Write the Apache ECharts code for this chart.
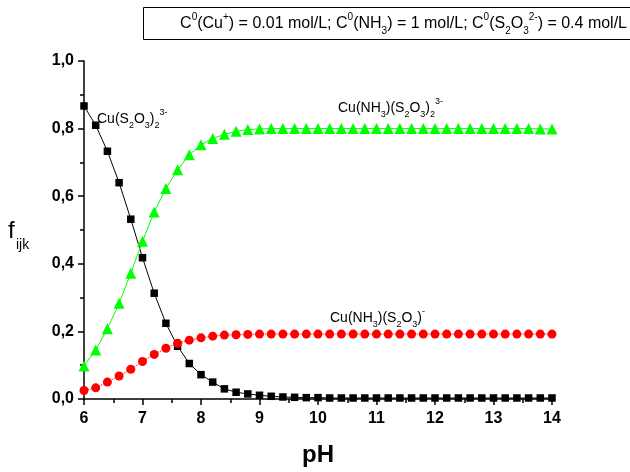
<!DOCTYPE html>
<html>
<head>
<meta charset="utf-8">
<script src="https://cdn.jsdelivr.net/npm/echarts@6/dist/echarts.min.js"></script>
<style>html,body{margin:0;padding:0;background:#fff}#c{width:630px;height:472px}</style>
</head>
<body>
<div id="c"></div>
<script>
const pH = [6.0,6.2,6.4,6.6,6.8,7.0,7.2,7.4,7.6,7.8,8.0,8.2,8.4,8.6,8.8,9.0,9.2,9.4,9.6,9.8,10.0,10.2,10.4,10.6,10.8,11.0,11.2,11.4,11.6,11.8,12.0,12.2,12.4,12.6,12.8,13.0,13.2,13.4,13.6,13.8,14.0];
const cuS2O3_2 = [0.867,0.810,0.733,0.640,0.532,0.418,0.313,0.224,0.156,0.105,0.072,0.050,0.030,0.020,0.015,0.011,0.008,0.006,0.005,0.004,0.004,0.003,0.003,0.003,0.003,0.003,0.003,0.003,0.003,0.003,0.003,0.003,0.003,0.003,0.003,0.003,0.003,0.003,0.003,0.003,0.003];
const cuNH3S2O3_2 = [0.098,0.145,0.208,0.283,0.372,0.467,0.553,0.623,0.678,0.723,0.752,0.771,0.783,0.792,0.797,0.799,0.800,0.800,0.800,0.800,0.800,0.800,0.800,0.800,0.800,0.800,0.800,0.800,0.800,0.800,0.800,0.800,0.800,0.800,0.800,0.800,0.800,0.800,0.800,0.799,0.799];
const cuNH3S2O3 = [0.025,0.033,0.050,0.068,0.088,0.111,0.132,0.150,0.165,0.174,0.181,0.186,0.189,0.190,0.191,0.192,0.192,0.192,0.192,0.192,0.192,0.192,0.192,0.192,0.192,0.192,0.192,0.192,0.192,0.192,0.192,0.192,0.192,0.192,0.192,0.192,0.192,0.192,0.192,0.192,0.192];
const xTicks = [6,7,8,9,10,11,12,13,14];
const yTicks = ['0,0','0,2','0,4','0,6','0,8','1,0'];

const FF = 'Liberation Sans, Arial, sans-serif';
const pair = (xs, ys) => xs.map((x, i) => [x, ys[i]]);
const mkRich = (fs, sfs, lh) => ({
  n: {fontSize: fs, lineHeight: lh, fontFamily: FF, color: '#000', verticalAlign: 'middle'},
  sup: {fontSize: sfs, lineHeight: lh, fontFamily: FF, color: '#000', verticalAlign: 'top'},
  sub: {fontSize: sfs, lineHeight: lh, fontFamily: FF, color: '#000', verticalAlign: 'bottom'}
});
const rich = mkRich(14, 9, 22);
const richT = mkRich(16, 10, 24);

const chart = echarts.init(document.getElementById('c'), null, {renderer: 'canvas'});
chart.setOption({
  animation: false,
  backgroundColor: '#fff',
  grid: {left: 84, right: 78, top: 61, bottom: 69, containLabel: false},
  xAxis: {
    type: 'value', min: 6, max: 14, interval: 1,
    name: 'pH', nameLocation: 'middle', nameGap: 44,
    nameTextStyle: {fontSize: 24, fontWeight: 'bold', fontFamily: FF, color: '#000'},
    axisLine: {lineStyle: {color: '#000', width: 1.5}},
    axisTick: {inside: false, length: 6, lineStyle: {color: '#000', width: 1.5}},
    minorTick: {show: true, splitNumber: 2, length: 4, lineStyle: {color: '#000', width: 1.5}},
    axisLabel: {margin: 12, fontSize: 16, fontWeight: 'bold', fontFamily: FF, color: '#000',
      formatter: v => String(xTicks.find(t => t === v) ?? v)},
    splitLine: {show: false}
  },
  yAxis: {
    type: 'value', min: 0, max: 1, interval: 0.2,
    axisLine: {show: true, lineStyle: {color: '#000', width: 1.5}},
    axisTick: {show: true, inside: false, length: 6, lineStyle: {color: '#000', width: 1.5}},
    minorTick: {show: true, splitNumber: 2, length: 4, lineStyle: {color: '#000', width: 1.5}},
    axisLabel: {margin: 10, fontSize: 16, fontWeight: 'bold', fontFamily: FF, color: '#000',
      formatter: v => yTicks[Math.round(v / 0.2)]},
    splitLine: {show: false}
  },
  series: [
    {type: 'line', data: pair(pH, cuS2O3_2), symbol: 'rect', symbolSize: 7.5, clip: true,
     itemStyle: {color: '#000'}, lineStyle: {color: '#000', width: 1}},
    {type: 'line', data: pair(pH, cuNH3S2O3_2), symbol: 'triangle', symbolSize: 11, clip: true,
     itemStyle: {color: '#00ff00'}, lineStyle: {color: '#00ff00', width: 1}},
    {type: 'line', data: pair(pH, cuNH3S2O3), symbol: 'circle', symbolSize: 9, clip: true,
     itemStyle: {color: '#ff0000'}, lineStyle: {color: '#ff0000', width: 1, type: 'dotted'}}
  ],
  graphic: [
    {type: 'rect', shape: {x: 143.5, y: 7.5, width: 520, height: 32}, style: {fill: '#fff', stroke: '#000', lineWidth: 1}},
    {type: 'text', x: 627, y: 24, style: {rich: richT, align: 'right', verticalAlign: 'middle',
      text: '{n|C}{sup|0}{n|(Cu}{sup|+}{n|) = 0.01 mol/L; C}{sup|0}{n|(NH}{sub|3}{n|) = 1 mol/L; C}{sup|0}{n|(S}{sub|2}{n|O}{sub|3}{sup|2-}{n|) = 0.4 mol/L}'}},
    {type: 'text', x: 97, y: 108, style: {rich: rich,
      text: '{n|Cu(S}{sub|2}{n|O}{sub|3}{n|)}{sub|2}{sup|3-}'}},
    {type: 'text', x: 338, y: 97, style: {rich: rich,
      text: '{n|Cu(NH}{sub|3}{n|)(S}{sub|2}{n|O}{sub|3}{n|)}{sub|2}{sup|3-}'}},
    {type: 'text', x: 330, y: 307, style: {rich: rich,
      text: '{n|Cu(NH}{sub|3}{n|)(S}{sub|2}{n|O}{sub|3}{n|)}{sup|-}'}},
    {type: 'text', x: 8, y: 219, style: {text: 'f', fontSize: 24, fontFamily: FF, fill: '#000'}},
    {type: 'text', x: 16, y: 238, style: {text: 'ijk', fontSize: 14, fontFamily: FF, fill: '#000'}}
  ]
});
</script>
</body>
</html>
